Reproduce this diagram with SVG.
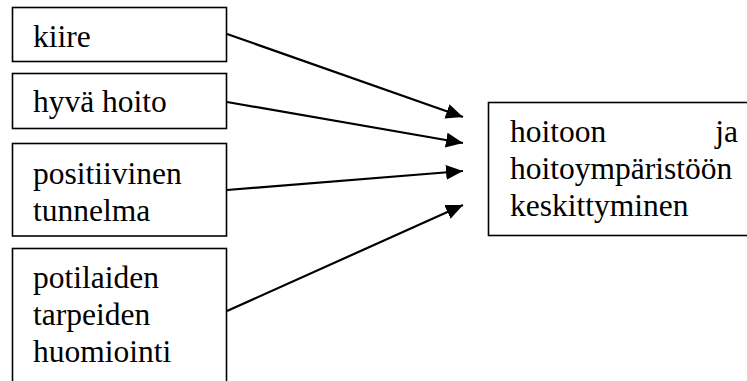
<svg xmlns="http://www.w3.org/2000/svg" width="747" height="381" viewBox="0 0 747 381">
  <style>
    .box { fill: #ffffff; stroke: #000000; stroke-width: 1.6; }
    .lbl { font-size: 31.5px; fill: #000000; }
    .edge { stroke: #000000; stroke-width: 2.2; fill: none; marker-end: url(#arrow); }
  </style>
  <defs>
    <marker id="arrow" markerUnits="userSpaceOnUse" markerWidth="18" markerHeight="16" refX="17" refY="7.5" orient="auto">
      <path d="M0,0 L17,7.5 L0,15 z" fill="#000000"/>
    </marker>
  </defs>

  <rect width="747" height="381" fill="#ffffff"/>

  <g font-family="'Liberation Serif', 'Times New Roman', Times, 'DejaVu Serif', serif">
    <g id="node-kiire">
      <rect class="box" x="12.5" y="7.5" width="214" height="54"/>
      <text class="lbl" x="33" y="47">kiire</text>
    </g>

    <g id="node-hyva-hoito">
      <rect class="box" x="12.5" y="73.5" width="214" height="55"/>
      <text class="lbl" x="33" y="112">hyvä hoito</text>
    </g>

    <g id="node-positiivinen-tunnelma">
      <rect class="box" x="12.5" y="143.5" width="214" height="92.5"/>
      <text class="lbl" x="33" y="184">positiivinen</text>
      <text class="lbl" x="33" y="221">tunnelma</text>
    </g>

    <g id="node-potilaiden-tarpeiden">
      <rect class="box" x="12.5" y="248.5" width="214" height="150"/>
      <text class="lbl" x="33" y="288">potilaiden</text>
      <text class="lbl" x="33" y="325">tarpeiden</text>
      <text class="lbl" x="33" y="362">huomiointi</text>
    </g>

    <g id="node-keskittyminen">
      <rect class="box" x="488.5" y="102.5" width="280" height="133"/>
      <text class="lbl" x="510" y="142">hoitoon</text>
      <text class="lbl" x="738" y="142" text-anchor="end">ja</text>
      <text class="lbl" x="510" y="179">hoitoympäristöön</text>
      <text class="lbl" x="510" y="216">keskittyminen</text>
    </g>
  </g>

  <g id="connectors">
    <line class="edge" x1="227" y1="34" x2="463" y2="117"/>
    <line class="edge" x1="227" y1="102" x2="463" y2="143"/>
    <line class="edge" x1="227" y1="190" x2="463" y2="171"/>
    <line class="edge" x1="227" y1="311" x2="463" y2="205"/>
  </g>
</svg>
